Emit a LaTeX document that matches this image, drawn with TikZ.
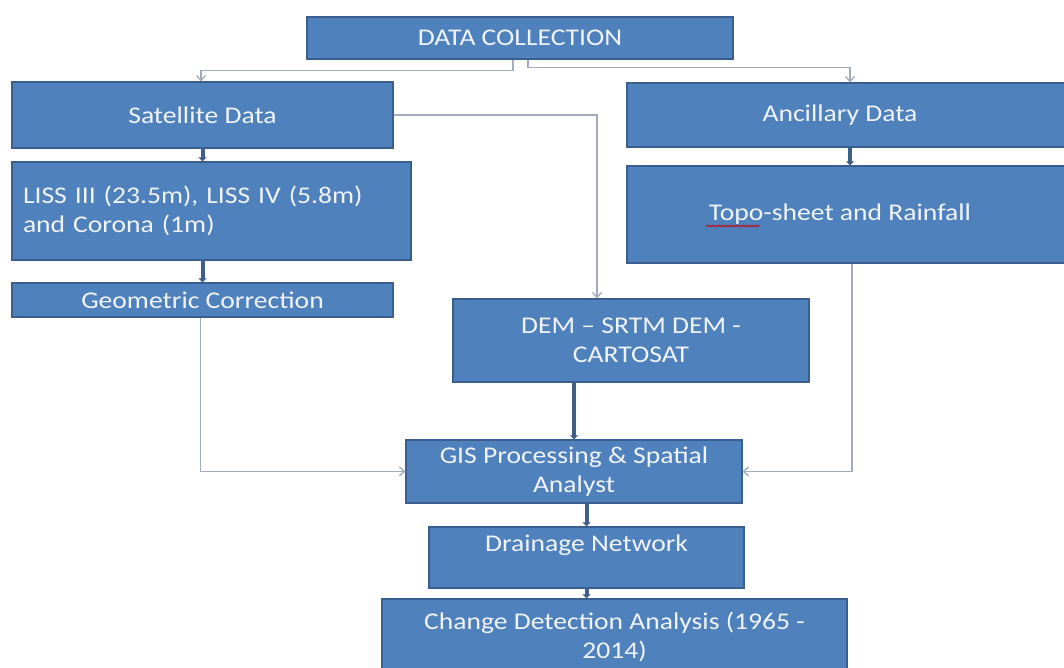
\documentclass[tikz,border=0pt]{standalone}
\usepackage{fontspec}
\setmainfont{Carlito}[FakeStretch=1.15]
\usepackage{tikz}
\usetikzlibrary{arrows.meta,positioning,calc,decorations.pathmorphing}
\definecolor{boxfill}{HTML}{4F81BD}
\definecolor{boxline}{HTML}{3A5F8E}
\definecolor{boxtext}{HTML}{F0F4FA}
\definecolor{linkgray}{HTML}{A0ABBB}
\definecolor{flowblue}{HTML}{3F5F88}

\begin{document}
\begin{tikzpicture}[
    x=1pt, y=-1pt,
    box/.style={draw=boxline, line width=1.2pt, fill=boxfill, rectangle, text=boxtext,
                font=\fontsize{24}{29}\selectfont, align=center, inner sep=0pt},
    feed/.style={draw=linkgray, line width=1.3pt, -{Straight Barb[length=5pt,width=9pt]}},
    flow/.style={draw=flowblue, line width=4pt, -{Triangle[length=4pt,width=8pt]}}
]
    \useasboundingbox (0,0) rectangle (1064,668);

    \node[box, minimum width=426pt, minimum height=42pt] (collect) at (520,38) {DATA COLLECTION};
    \node[box, minimum width=381pt, minimum height=66pt] (sat) at (202.5,115) {Satellite Data};
    \node[box, minimum width=399pt, minimum height=98pt, text width=377pt, align=left] (liss) at (211.5,211)
        {LISS III (23.5m), LISS IV (5.8m)\\and Corona (1m)};
    \node[box, minimum width=381pt, minimum height=34pt] (geo) at (202.5,300) {Geometric Correction};
    % right column runs off the page
    \node[box, minimum width=448pt, minimum height=64pt] (anc) at (851,115) {Ancillary Data\hspace*{22pt}};
    \node[box, minimum width=448pt, minimum height=97pt] (topo) at (851,214.5) {Topo-sheet and Rainfall\hspace*{22pt}};
    \node[box, minimum width=356pt, minimum height=83pt] (dem) at (631,340.5) {DEM -- SRTM DEM -\\CARTOSAT};
    \node[box, minimum width=336pt, minimum height=63pt] (gis) at (574,471.5) {GIS Processing \& Spatial\\Analyst};
    \node[box, minimum width=315pt, minimum height=61pt] (drain) at (586.5,557.5) {Drainage Network\\\mbox{}};
    \node[box, minimum width=465pt, minimum height=76pt] (change) at (614.5,637) {Change Detection Analysis (1965 -\\2014)};

    % spell-check mark
    \draw[red!80!black, line width=0.7pt, decorate, decoration={snake, amplitude=0.9pt, segment length=3pt}]
        (706,226) -- (760,226);

    % Feeds
    \draw[feed] ([xshift=-7pt]collect.south) -- ++(0,11) -| ([xshift=-1.5pt]sat.north);
    \draw[feed] ([xshift=8pt]collect.south) -- ++(0,8) -| ([xshift=-1pt]anc.north);
    \draw[feed] (sat.east) -| ([xshift=-34pt]dem.north);
    \draw[feed] ([xshift=-2pt]geo.south) |- (gis.west);
    \draw[feed] ([xshift=1pt]topo.south) |- (gis.east);

    % Main flow
    \draw[flow] (sat.south) -- (sat.south |- liss.north);
    \draw[flow] (liss.south -| geo.north) -- (geo.north);
    \draw[flow] ([xshift=-1pt]anc.south) -- ([xshift=-1pt]topo.north);
    \draw[flow] (dem.south -| gis.north) -- (gis.north);
    \draw[flow] (gis.south -| drain.north) -- (drain.north);
    \draw[flow] (drain.south) -- (drain.south |- change.north);
\end{tikzpicture}
\end{document}
